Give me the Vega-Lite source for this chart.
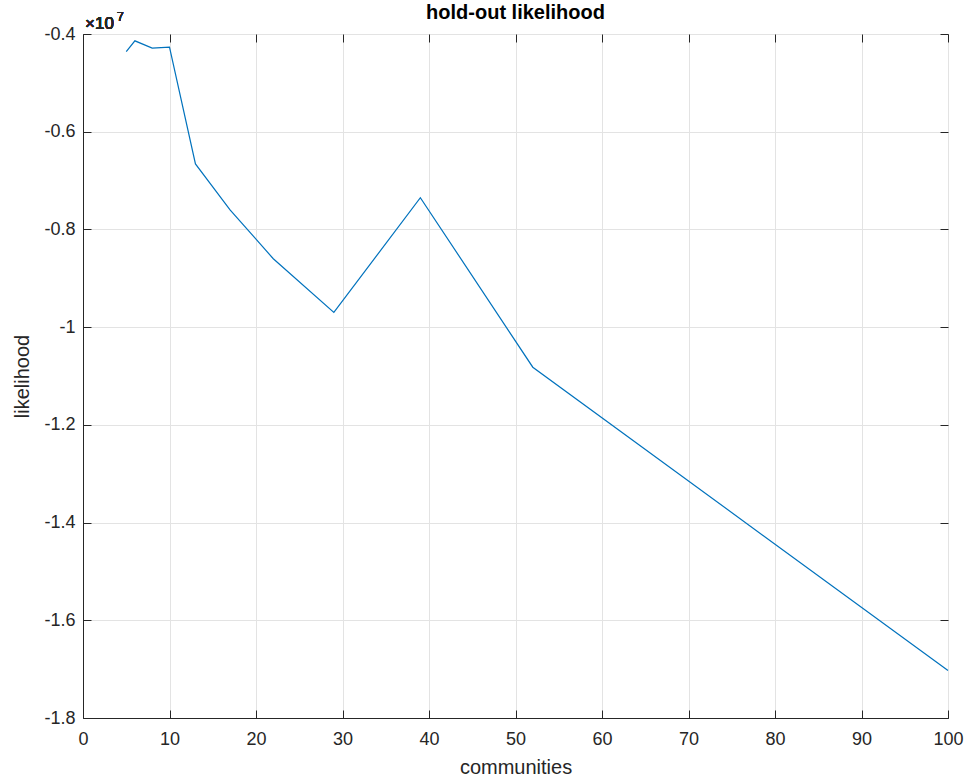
{
  "$schema": "https://vega.github.io/schema/vega-lite/v6.json",
  "width": 865,
  "height": 684,
  "autosize": "none",
  "padding": {"left": 83, "top": 34, "right": 20, "bottom": 62},
  "background": "white",
  "config": {
    "font": "Liberation Sans",
    "view": {"stroke": "#262626", "strokeWidth": 1},
    "axis": {
      "domainColor": "#262626",
      "tickColor": "#262626",
      "labelColor": "#262626",
      "titleColor": "#262626",
      "labelFont": "Liberation Sans",
      "titleFont": "Liberation Sans",
      "labelFontSize": 18,
      "titleFontSize": 20,
      "titleFontWeight": "normal",
      "gridColor": "#e3e3e3",
      "gridWidth": 1,
      "tickSize": -8
    }
  },
  "title": {"text": "hold-out likelihood", "fontSize": 20, "fontWeight": "bold", "font": "Liberation Sans", "color": "#000000", "offset": 6, "dy": 18},
  "data": {
    "values": [
      {"communities": 5, "likelihood": -4360000},
      {"communities": 6, "likelihood": -4140000},
      {"communities": 8, "likelihood": -4290000},
      {"communities": 10, "likelihood": -4270000},
      {"communities": 13, "likelihood": -6660000},
      {"communities": 17, "likelihood": -7600000},
      {"communities": 22, "likelihood": -8600000},
      {"communities": 29, "likelihood": -9700000},
      {"communities": 39, "likelihood": -7350000},
      {"communities": 52, "likelihood": -10820000},
      {"communities": 100, "likelihood": -17030000}
    ]
  },
  "layer": [
    {
      "mark": {"type": "line", "color": "#0072BD", "strokeWidth": 1.2},
      "encoding": {
        "x": {"field": "communities", "type": "quantitative",
              "scale": {"domain": [0, 100], "nice": false, "zero": false},
              "axis": {"values": [0,10,20,30,40,50,60,70,80,90,100], "title": "communities", "labelPadding": 20, "titlePadding": 9, "labelFlush": false}},
        "y": {"field": "likelihood", "type": "quantitative",
              "scale": {"domain": [-18000000, -4000000], "nice": false, "zero": false},
              "axis": {"values": [-18000000,-16000000,-14000000,-12000000,-10000000,-8000000,-6000000,-4000000],
                       "labelExpr": "toString(round(datum.value/1000000)/10)", "title": "likelihood", "labelPadding": 16, "titlePadding": 11, "labelFlush": false}}
      }
    },
    {
      "mark": {"type": "text", "align": "left", "baseline": "alphabetic", "dy": -5, "dx": 2, "fontSize": 17, "fontWeight": "normal", "color": "#262626", "font": "Liberation Sans"},
      "encoding": {
        "x": {"datum": 0, "type": "quantitative", "axis": {"orient": "top", "values": [0,10,20,30,40,50,60,70,80,90,100], "labels": false, "grid": false, "title": null, "domain": false}},
        "y": {"datum": -4000000, "type": "quantitative", "axis": {"orient": "right", "values": [-18000000,-16000000,-14000000,-12000000,-10000000,-8000000,-6000000,-4000000], "labels": false, "grid": false, "title": null, "domain": false}},
        "text": {"value": "×10"}
      }
    },
    {
      "mark": {"type": "text", "align": "left", "baseline": "alphabetic", "dy": -13, "dx": 34, "fontSize": 12, "fontWeight": "normal", "color": "#262626", "font": "Liberation Sans"},
      "encoding": {
        "x": {"datum": 0, "type": "quantitative", "axis": null},
        "y": {"datum": -4000000, "type": "quantitative", "axis": null},
        "text": {"value": "7"}
      }
    }
  ],
  "resolve": {"axis": {"x": "independent", "y": "independent"}}
}
